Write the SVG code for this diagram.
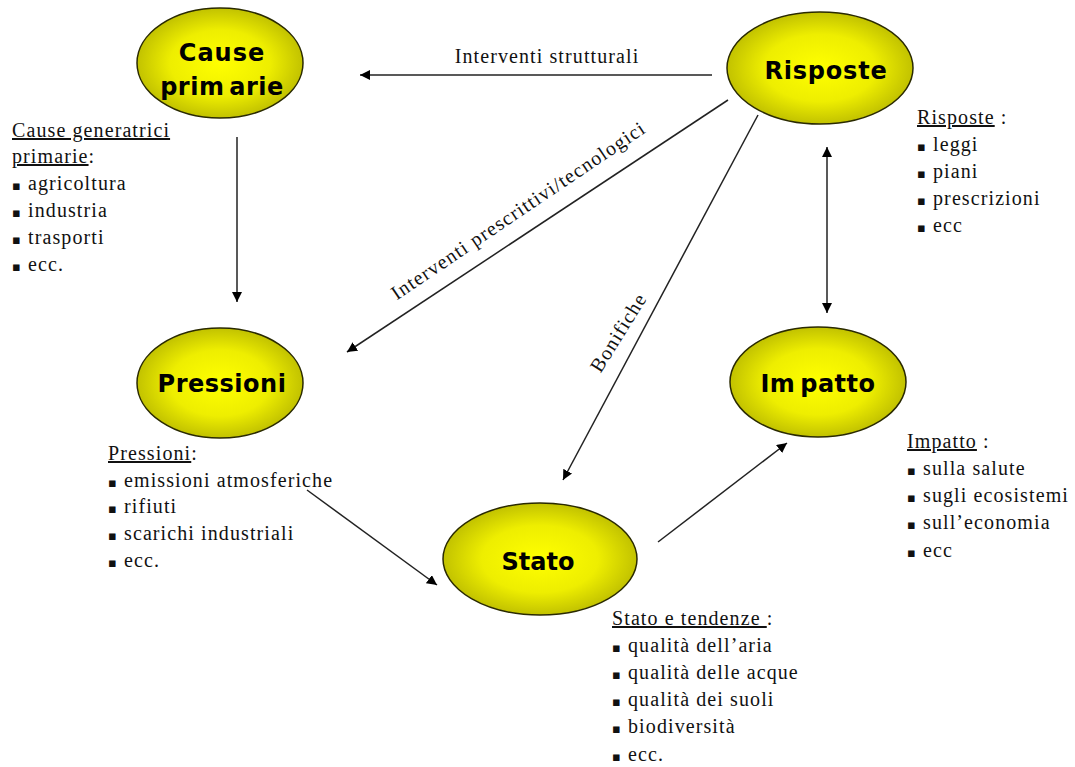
<svg xmlns="http://www.w3.org/2000/svg" width="1075" height="767" viewBox="0 0 1075 767">
<defs>
<radialGradient id="yel" cx="0.5" cy="0.5" r="0.5">
<stop offset="0" stop-color="#FFFF00"/>
<stop offset="0.6" stop-color="#EEEE00"/>
<stop offset="1" stop-color="#C2C200"/>
</radialGradient>
<marker id="ah" viewBox="0 0 10 10" refX="10" refY="5" markerWidth="10" markerHeight="10" markerUnits="userSpaceOnUse" orient="auto-start-reverse">
<path d="M0,0 L10,5 L0,10 z" fill="#000"/>
</marker>
</defs>
<style>
.lbl{font-family:"DejaVu Sans",Verdana,sans-serif;font-weight:bold;font-size:24px;fill:#000;text-anchor:middle}
.t{font-family:"Liberation Serif","Times New Roman",serif;font-size:20px;fill:#111;letter-spacing:1.1px}
.u{text-decoration:underline}
.b{font-family:"DejaVu Sans",sans-serif;font-size:13px}
.c{stroke:#222;stroke-width:1.5;fill:none}
</style>
<rect width="1075" height="767" fill="#fff"/>

<g id="connectors">
<line class="c" x1="712" y1="75" x2="360" y2="75" marker-end="url(#ah)"/>
<line class="c" x1="237" y1="137" x2="237" y2="302" marker-end="url(#ah)"/>
<line class="c" x1="728" y1="100" x2="347" y2="352" marker-end="url(#ah)"/>
<line class="c" x1="758" y1="115" x2="563" y2="480" marker-end="url(#ah)"/>
<line class="c" x1="307" y1="490" x2="437" y2="585" marker-end="url(#ah)"/>
<line class="c" x1="658" y1="542" x2="787" y2="443" marker-end="url(#ah)"/>
<line class="c" x1="827" y1="147" x2="827" y2="313" marker-start="url(#ah)" marker-end="url(#ah)"/>
<text class="t" x="547" y="63" text-anchor="middle">Interventi strutturali</text>
<text class="t" x="0" y="0" text-anchor="middle" transform="translate(522,216) rotate(-34)">Interventi prescrittivi/tecnologici</text>
<text class="t" x="0" y="0" text-anchor="middle" transform="translate(624,336) rotate(-58)">Bonifiche</text>
</g>

<g id="cause">
<ellipse cx="220" cy="63" rx="83" ry="55" fill="url(#yel)" stroke="#2a2a00" stroke-width="1.5"/>
<text class="lbl" x="222" y="61" letter-spacing="1">Cause</text>
<text class="lbl" x="222" y="95" letter-spacing="0.5" word-spacing="-4">prim arie</text>
</g>
<g id="risposte">
<ellipse cx="820" cy="68" rx="93" ry="56" fill="url(#yel)" stroke="#2a2a00" stroke-width="1.5"/>
<text class="lbl" x="826" y="79" letter-spacing="0.8">Risposte</text>
</g>
<g id="pressioni">
<ellipse cx="220" cy="383" rx="83" ry="55" fill="url(#yel)" stroke="#2a2a00" stroke-width="1.5"/>
<text class="lbl" x="222" y="392" letter-spacing="0.5">Pressioni</text>
</g>
<g id="impatto">
<ellipse cx="818" cy="382" rx="88" ry="55" fill="url(#yel)" stroke="#2a2a00" stroke-width="1.5"/>
<text class="lbl" x="818" y="392" letter-spacing="0.5" word-spacing="-4">Im patto</text>
</g>
<g id="stato">
<ellipse cx="540" cy="559" rx="97" ry="56" fill="url(#yel)" stroke="#2a2a00" stroke-width="1.5"/>
<text class="lbl" x="538" y="570">Stato</text>
</g>

<g id="cause-list">
<text class="t" x="12" y="137"><tspan class="u">Cause generatrici </tspan></text>
<text class="t" x="12" y="163"><tspan class="u">primarie</tspan>:</text>
<text class="t" x="12" y="190"><tspan class="b">▪</tspan> agricoltura</text>
<text class="t" x="12" y="217"><tspan class="b">▪</tspan> industria</text>
<text class="t" x="12" y="244"><tspan class="b">▪</tspan> trasporti</text>
<text class="t" x="12" y="271"><tspan class="b">▪</tspan> ecc.</text>
</g>
<g id="pressioni-list">
<text class="t" x="108" y="460"><tspan class="u">Pressioni</tspan>:</text>
<text class="t" x="108" y="487"><tspan class="b">▪</tspan> emissioni atmosferiche</text>
<text class="t" x="108" y="513"><tspan class="b">▪</tspan> rifiuti</text>
<text class="t" x="108" y="540"><tspan class="b">▪</tspan> scarichi industriali</text>
<text class="t" x="108" y="567"><tspan class="b">▪</tspan> ecc.</text>
</g>
<g id="stato-list">
<text class="t" x="612" y="625"><tspan class="u">Stato e tendenze </tspan>:</text>
<text class="t" x="612" y="652"><tspan class="b">▪</tspan> qualità dell’aria</text>
<text class="t" x="612" y="679"><tspan class="b">▪</tspan> qualità delle acque</text>
<text class="t" x="612" y="706"><tspan class="b">▪</tspan> qualità dei suoli</text>
<text class="t" x="612" y="733"><tspan class="b">▪</tspan> biodiversità</text>
<text class="t" x="612" y="761"><tspan class="b">▪</tspan> ecc.</text>
</g>
<g id="impatto-list">
<text class="t" x="907" y="448"><tspan class="u">Impatto</tspan> :</text>
<text class="t" x="907" y="475"><tspan class="b">▪</tspan> sulla salute</text>
<text class="t" x="907" y="502"><tspan class="b">▪</tspan> sugli ecosistemi</text>
<text class="t" x="907" y="529"><tspan class="b">▪</tspan> sull’economia</text>
<text class="t" x="907" y="557"><tspan class="b">▪</tspan> ecc</text>
</g>
<g id="risposte-list">
<text class="t" x="917" y="124"><tspan class="u">Risposte</tspan> :</text>
<text class="t" x="917" y="151"><tspan class="b">▪</tspan> leggi</text>
<text class="t" x="917" y="178"><tspan class="b">▪</tspan> piani</text>
<text class="t" x="917" y="205"><tspan class="b">▪</tspan> prescrizioni</text>
<text class="t" x="917" y="232"><tspan class="b">▪</tspan> ecc</text>
</g>
</svg>
